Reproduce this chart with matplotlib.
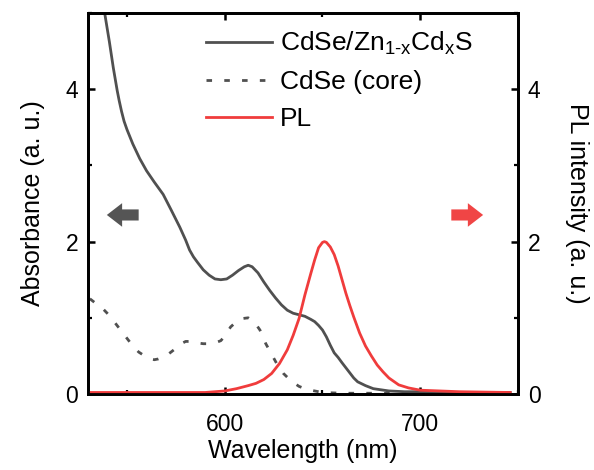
import matplotlib
matplotlib.use("Agg")
import matplotlib.pyplot as plt

plt.rcParams['font.family'] = ['Liberation Sans', 'DejaVu Sans']
plt.rcParams['mathtext.fontset'] = 'custom'
plt.rcParams['mathtext.rm'] = 'Liberation Sans'
plt.rcParams['mathtext.it'] = 'Liberation Sans'
plt.rcParams['mathtext.bf'] = 'Liberation Sans:bold'

# Absorbance of core/shell quantum dots
wl_shell = [530, 533, 536, 538.7, 541, 543, 545, 546, 547.2, 548.5, 550, 553, 556.5,
            560, 564, 568.5, 572.5, 577, 580, 582, 584, 586, 589, 592, 595, 598,
            601, 604, 607, 610, 612, 614, 617, 620, 623, 626, 629, 632, 635, 638,
            641, 644, 646, 648, 650, 652, 654, 656, 658, 660, 663, 666, 668, 672,
            676, 684, 692, 700, 720, 746]
abs_shell = [6.6, 5.9, 5.35, 4.98, 4.62, 4.28, 3.98, 3.85, 3.71, 3.58, 3.47, 3.28,
             3.09, 2.93, 2.78, 2.62, 2.42, 2.19, 2.02, 1.89, 1.80, 1.73, 1.63, 1.56,
             1.51, 1.50, 1.51, 1.56, 1.62, 1.67, 1.69, 1.67, 1.59, 1.47, 1.36, 1.26,
             1.17, 1.10, 1.06, 1.04, 1.02, 0.98, 0.95, 0.90, 0.84, 0.75, 0.64, 0.54,
             0.48, 0.41, 0.31, 0.21, 0.16, 0.11, 0.07, 0.04, 0.03, 0.03, 0.02, 0.02]

# Absorbance of bare CdSe cores
wl_core = [531, 534, 538, 541, 544, 547, 550, 553, 556, 559, 562, 564, 566, 568,
           571, 574, 577, 580, 583, 586, 589, 592, 595, 598, 600, 603, 606, 609,
           612, 615, 618, 621, 624, 627, 630, 634, 638, 642, 646, 650, 660, 680,
           700, 746]
abs_core = [1.25, 1.19, 1.11, 1.03, 0.93, 0.83, 0.73, 0.63, 0.55, 0.50, 0.46, 0.45,
            0.46, 0.48, 0.52, 0.58, 0.65, 0.69, 0.69, 0.67, 0.66, 0.66, 0.67, 0.70,
            0.76, 0.88, 0.95, 0.99, 1.00, 0.95, 0.84, 0.66, 0.52, 0.38, 0.27, 0.17,
            0.10, 0.06, 0.04, 0.02, 0.01, 0.01, 0.0, 0.0]

# Photoluminescence spectrum
wl_pl = [531, 560, 590, 600, 606, 612, 616, 620, 624, 628, 632, 635, 638, 641, 644,
         646, 648, 650, 651, 652, 654, 656, 658, 660, 662, 664, 666, 669, 672, 675,
         678, 681, 684, 689, 694, 700, 720, 746]
pl = [0.02, 0.02, 0.02, 0.04, 0.07, 0.11, 0.14, 0.19, 0.27, 0.40, 0.58, 0.77, 0.99,
      1.30, 1.58, 1.76, 1.92, 1.99, 2.00, 1.99, 1.93, 1.83, 1.68, 1.50, 1.32, 1.16,
      1.01, 0.80, 0.63, 0.50, 0.38, 0.29, 0.21, 0.12, 0.08, 0.05, 0.03, 0.02]

x_ticks = [600, 700]
y_ticks = [0, 2, 4]

grey = '#505050'
red = '#f03c3c'

fig = plt.figure(figsize=(5.94, 4.70), dpi=100)
ax = fig.add_axes([0.148, 0.1617, 0.724, 0.8105])
ax2 = ax.twinx()

l1, = ax.plot(wl_shell, abs_shell, color=grey, lw=2.0,
              label=r'CdSe/Zn$_{\mathregular{1\text{-}x}}$Cd$_{\mathregular{x}}$S')
l2, = ax.plot(wl_core, abs_core, color=grey, lw=2.0, dashes=(2.0, 4.4),
              label='CdSe (core)')
l3, = ax2.plot(wl_pl, pl, color=red, lw=2.0, label='PL')

ax.set_xlim(530, 750)
ax.set_ylim(0, 5)
ax2.set_ylim(0, 5)
ax.set_xticks(x_ticks)
ax.set_xticks([550, 650, 750], minor=True)
ax.set_yticks(y_ticks)
ax.set_yticks([1, 3, 5], minor=True)
ax2.set_yticks(y_ticks)
ax2.set_yticks([1, 3, 5], minor=True)

for a in (ax, ax2):
    for s in a.spines.values():
        s.set_linewidth(2.0)
    a.tick_params(which='major', direction='in', length=5, width=1.8,
                  labelsize=16.5, pad=7)
    a.tick_params(which='minor', direction='in', length=3, width=1.6)
ax.tick_params(which='both', top=True)
ax.tick_params(axis='x', which='major', pad=14)

ax.set_xlabel('Wavelength (nm)', fontsize=18, labelpad=2)
ax.set_ylabel('Absorbance (a. u.)', fontsize=18, labelpad=15)
ax2.set_ylabel('PL intensity (a. u.)', fontsize=18, rotation=270, labelpad=35)

ax.legend(handles=[l1, l2, l3], loc='upper left', bbox_to_anchor=(0.235, 1.0),
          frameon=False, fontsize=19, handlelength=2.5, handletextpad=0.3,
          labelspacing=0.48, borderaxespad=0.25)

# direction arrows pointing to each axis
ax.annotate('', xy=(0.044, 0.47), xytext=(0.118, 0.47), xycoords='axes fraction',
            arrowprops=dict(arrowstyle='simple,head_length=11,head_width=17,tail_width=8',
                            mutation_scale=1, color='#555555', shrinkA=0, shrinkB=0, lw=0))
ax.annotate('', xy=(0.919, 0.47), xytext=(0.845, 0.47), xycoords='axes fraction',
            arrowprops=dict(arrowstyle='simple,head_length=11,head_width=17,tail_width=8',
                            mutation_scale=1, color='#f04545', shrinkA=0, shrinkB=0, lw=0))

fig.savefig('out.png', dpi=100)
